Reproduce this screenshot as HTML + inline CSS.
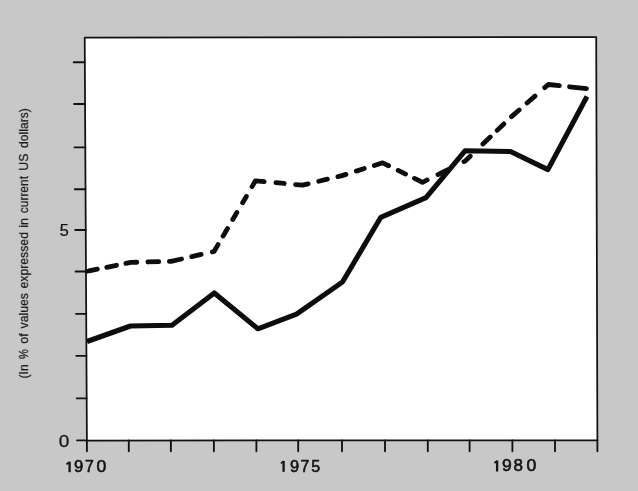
<!DOCTYPE html>
<html><head><meta charset="utf-8"><style>
html,body{margin:0;padding:0;background:#c8c8c8;}
body{width:638px;height:491px;overflow:hidden;position:relative;font-family:"Liberation Sans",sans-serif;}
svg{position:absolute;left:0;top:0;filter:grayscale(1);}
.t{font-family:"Liberation Sans",sans-serif;fill:#151515;stroke:#151515;stroke-width:0.6px;}
</style></head><body>
<svg width="638" height="491" viewBox="0 0 638 491">
<rect width="638" height="491" fill="#c8c8c8"/>
<polygon points="84.7,37.5 596.2,37.0 597.4,440.4 86.9,440.5" fill="#fff" stroke="#111" stroke-width="1.75" stroke-linejoin="round"/>
<g stroke="#111" stroke-width="1.85" stroke-linecap="round">
<line x1="77.1" y1="440.4" x2="86.9" y2="440.4"/>
<line x1="76.7" y1="398.3" x2="86.7" y2="398.3"/>
<line x1="76.3" y1="355.8" x2="86.4" y2="355.8"/>
<line x1="76.0" y1="313.8" x2="86.2" y2="313.8"/>
<line x1="75.6" y1="271.5" x2="86.0" y2="271.5"/>
<line x1="75.2" y1="230.0" x2="85.8" y2="230.0"/>
<line x1="74.8" y1="189.2" x2="85.5" y2="189.2"/>
<line x1="74.5" y1="147.4" x2="85.3" y2="147.4"/>
<line x1="74.1" y1="104.0" x2="85.1" y2="104.0"/>
<line x1="73.7" y1="62.2" x2="84.8" y2="62.2"/>
<line x1="86.9" y1="440.5" x2="86.9" y2="451.3"/>
<line x1="128.8" y1="440.5" x2="128.8" y2="451.3"/>
<line x1="170.9" y1="440.5" x2="170.9" y2="451.3"/>
<line x1="213.9" y1="440.5" x2="213.9" y2="451.3"/>
<line x1="256.4" y1="440.5" x2="256.4" y2="451.3"/>
<line x1="298.2" y1="440.5" x2="298.2" y2="451.3"/>
<line x1="342.0" y1="440.5" x2="342.0" y2="451.3"/>
<line x1="385.0" y1="440.4" x2="385.0" y2="451.2"/>
<line x1="427.8" y1="440.4" x2="427.8" y2="451.2"/>
<line x1="469.6" y1="440.4" x2="469.6" y2="451.2"/>
<line x1="512.4" y1="440.4" x2="512.4" y2="451.2"/>
<line x1="555.0" y1="440.4" x2="555.0" y2="451.2"/>
<line x1="597.4" y1="440.4" x2="597.4" y2="451.2"/>
</g>
<polyline points="87.0,341.5 130.5,326.0 172.0,325.2 214.3,293.0 257.9,328.8 296.5,314.2 342.5,282.0 380.8,217.3 426.0,197.6 465.0,150.8 510.5,151.5 547.9,169.6 587.0,96.5" fill="none" stroke="#0d0d0d" stroke-width="5.1" stroke-linejoin="round" stroke-linecap="butt"/>
<polyline points="87.0,271.3 130.8,262.4 171.0,261.4 214.0,251.5 255.5,180.8 302.5,185.2 342.0,175.6 382.6,162.8 422.5,182.3 465.5,160.8 510.5,117.5 548.3,84.5 588.5,88.8" fill="none" stroke="#0d0d0d" stroke-width="4.8" stroke-linejoin="round" stroke-linecap="round" stroke-dasharray="0.00 2.00 8.55 9.61 9.98 9.51 11.04 11.10 10.90 10.60 12.43 10.46 9.65 11.55 9.64 9.88 8.79 10.45 8.02 11.43 7.32 11.34 15.49 11.83 8.25 11.43 12.76 10.90 8.86 10.90 8.36 10.82 8.37 10.50 15.38 10.68 8.24 9.90 14.17 12.05 10.53 18.53 8.29 17.60 10.16 9.55 9.32 10.52 10.23 10.50 10.47 12.94 15.90 10.24 17.02 1000.00"/>
<g class="t" opacity="0.999" font-size="16.0">
<text transform="translate(74.02 471.99) scale(1.042 1)">9</text>
<text transform="translate(84.99 472.15) scale(0.990 1)">7</text>
<text transform="translate(96.51 471.99) scale(1.098 1)">0</text>
<text transform="translate(290.03 471.59) scale(1.028 1)">9</text>
<text transform="translate(300.59 471.75) scale(0.990 1)">7</text>
<text transform="translate(311.36 471.59) scale(1.002 1)">5</text>
<text transform="translate(501.98 471.29) scale(1.096 1)">9</text>
<text transform="translate(513.46 471.29) scale(1.066 1)">8</text>
<text transform="translate(526.41 471.29) scale(1.098 1)">0</text>
<text style="stroke-width:0.25px" transform="translate(58.86 446.59) scale(1.190 1)">0</text>
<text style="stroke-width:0.25px" transform="translate(59.75 236.39) scale(1.015 1)">5</text>
</g>
<g stroke="#151515" stroke-width="2.3" fill="none" stroke-linecap="butt">
<path d="M69.6 461.7V472.2"/>
<path d="M69.4 462.2L66.4 464.2" stroke-width="1.7"/>
<path d="M283.6 460.9V471.8"/>
<path d="M283.4 461.4L280.8 463.4" stroke-width="1.7"/>
<path d="M497.1 460.5V471.5"/>
<path d="M496.9 461.0L494.4 463.0" stroke-width="1.7"/>
</g>
<g class="t" style="stroke-width:0.2px;fill:#1c1c1c;stroke:#1c1c1c" font-size="12.8"><text transform="translate(27.6 378.45) rotate(-90) scale(0.9389 1)">(In</text>
<text transform="translate(27.6 358.90) rotate(-90) scale(0.8692 1)">%</text>
<text transform="translate(27.6 343.63) rotate(-90) scale(0.9847 1)">of</text>
<text transform="translate(27.6 328.44) rotate(-90) scale(0.9563 1)">values</text>
<text transform="translate(27.6 288.52) rotate(-90) scale(0.9569 1)">expressed</text>
<text transform="translate(27.6 227.83) rotate(-90) scale(0.9667 1)">in</text>
<text transform="translate(27.6 213.21) rotate(-90) scale(0.9337 1)">current</text>
<text transform="translate(27.6 170.76) rotate(-90) scale(0.9687 1)">US</text>
<text transform="translate(27.6 147.91) rotate(-90) scale(0.9474 1)">dollars)</text></g>
</svg>
</body></html>
